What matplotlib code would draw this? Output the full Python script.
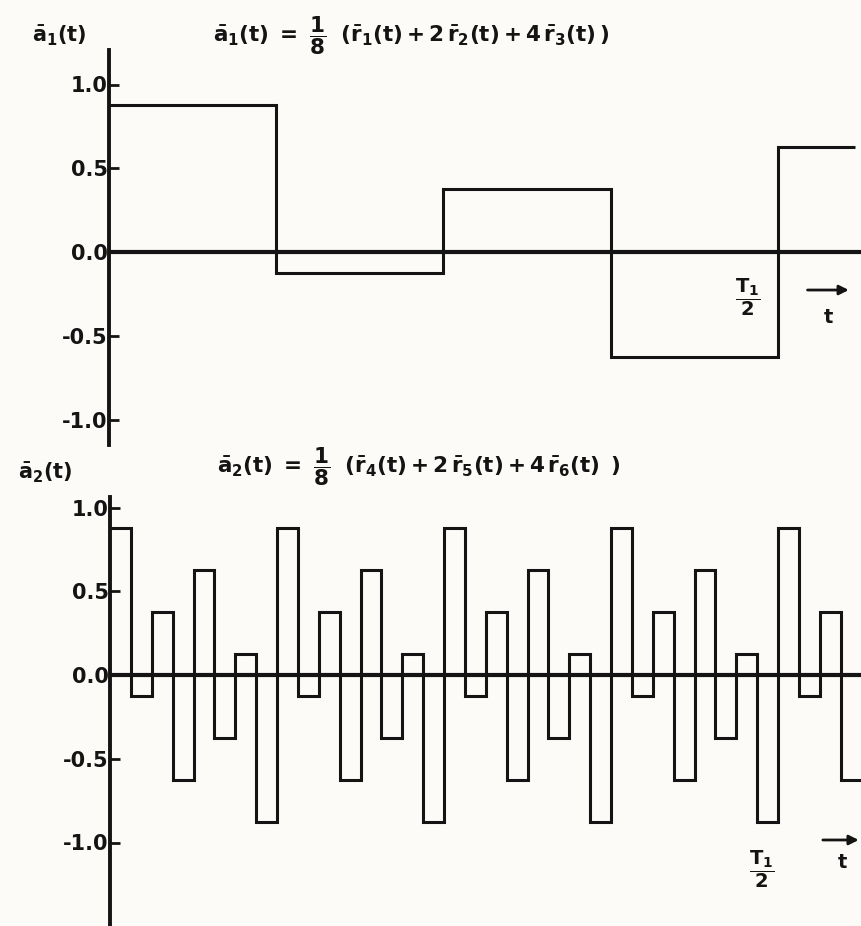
import numpy as np
import matplotlib
matplotlib.use("Agg")
import matplotlib.pyplot as plt

plt.rcParams["font.family"] = ["DejaVu Sans"]
plt.rcParams["mathtext.fontset"] = "dejavusans"
plt.rcParams["mathtext.default"] = "bf"

# time in units of T1/2
top_edges = [0.0, 0.25, 0.5, 0.75, 1.0, 1.115]
top_values = [0.875, -0.125, 0.375, -0.625, 0.625]

bottom_step = 1 / 32
bottom_values = [
    0.875, -0.125, 0.375, -0.625, 0.625, -0.375, 0.125, -0.875,
    0.875, -0.125, 0.375, -0.625, 0.625, -0.375, 0.125, -0.875,
    0.875, -0.125, 0.375, -0.625, 0.625, -0.375, 0.125, -0.875,
    0.875, -0.125, 0.375, -0.625, 0.625, -0.375, 0.125, -0.875,
    0.875, -0.125, 0.375, -0.625,
]

ytick_vals = [-1.0, -0.5, 0.0, 0.5, 1.0]
ytick_labels = ["-1.0", "-0.5", "0.0", "0.5", "1.0"]

top_title = (r"$\bar{a}_1(t)\ =\ \dfrac{1}{8}\ \ (\bar{r}_1(t) + 2\,\bar{r}_2(t)"
             r" + 4\,\bar{r}_3(t)\,)$")
bottom_title = (r"$\bar{a}_2(t)\ =\ \dfrac{1}{8}\ \ (\bar{r}_4(t) + 2\,\bar{r}_5(t)"
                r" + 4\,\bar{r}_6(t)\ \,)$")
half_period = r"$\dfrac{T_1}{2}$"

INK = "#141414"
BG = "#fcfbf8"
W, H = 861, 926

fig = plt.figure(figsize=(W / 100, H / 100), dpi=100, facecolor=BG)


def px_axes(left, top, bottom):
    return fig.add_axes([left / W, 1 - bottom / H, (W - left) / W, (bottom - top) / H])


def style(ax, ylim, xmax):
    ax.set_facecolor("none")
    ax.set_xlim(0, xmax)
    ax.set_ylim(*ylim)
    for side in ("top", "right", "bottom"):
        ax.spines[side].set_visible(False)
    ax.spines["left"].set_linewidth(2.8)
    ax.spines["left"].set_color(INK)
    ax.set_xticks([])
    ax.set_yticks(ytick_vals)
    ax.set_yticklabels(ytick_labels)
    ax.tick_params(axis="y", direction="in", length=7, width=2, pad=1,
                   labelsize=15, colors=INK)
    for lab in ax.get_yticklabels():
        lab.set_fontweight("bold")
    ax.axhline(0, color=INK, lw=3, zorder=3)


xmax = (W - 109) / (778 - 109)

# upper panel
ax1 = px_axes(109, 50, 445)
style(ax1, (-(445 - 252) / 167.5, (252 - 50) / 167.5), xmax)
ax1.stairs(top_values, top_edges, baseline=None, color=INK, lw=2.2)
ax1.text(0.955, -0.27, half_period, ha="center", va="center",
         fontsize=14, color=INK)
ax1.annotate("", xy=(1.11, -0.227), xytext=(1.04, -0.227),
             arrowprops=dict(arrowstyle="-|>", color=INK, lw=2, mutation_scale=14))
ax1.text(1.075, -0.39, "t", ha="center", va="center", fontsize=14,
         fontweight="bold", color=INK)

# lower panel
ax2 = px_axes(110, 497, 926)
style(ax2, (-(926 - 675) / 167.5, (675 - 497) / 167.5), (W - 110) / 668)
bottom_edges = np.arange(len(bottom_values) + 1) * bottom_step
ax2.stairs(bottom_values, bottom_edges, baseline=None, color=INK, lw=2.2)
ax2.text(0.976, -1.16, half_period, ha="center", va="center",
         fontsize=14, color=INK)
ax2.annotate("", xy=(1.125, -0.985), xytext=(1.063, -0.985),
             arrowprops=dict(arrowstyle="-|>", color=INK, lw=2, mutation_scale=14))
ax2.text(1.096, -1.12, "t", ha="center", va="center", fontsize=14,
         fontweight="bold", color=INK)

# axis names and formulas
fig.text(59 / W, 1 - 36 / H, r"$\bar{a}_1(t)$", ha="center", va="center",
         fontsize=15, color=INK)
fig.text(45 / W, 1 - 473 / H, r"$\bar{a}_2(t)$", ha="center", va="center",
         fontsize=15, color=INK)
fig.text(213 / W, 1 - 36 / H, top_title, ha="left", va="center",
         fontsize=15.5, color=INK)
fig.text(217 / W, 1 - 467 / H, bottom_title, ha="left", va="center",
         fontsize=15.5, color=INK)

fig.savefig("out.png", dpi=100, facecolor=BG)
